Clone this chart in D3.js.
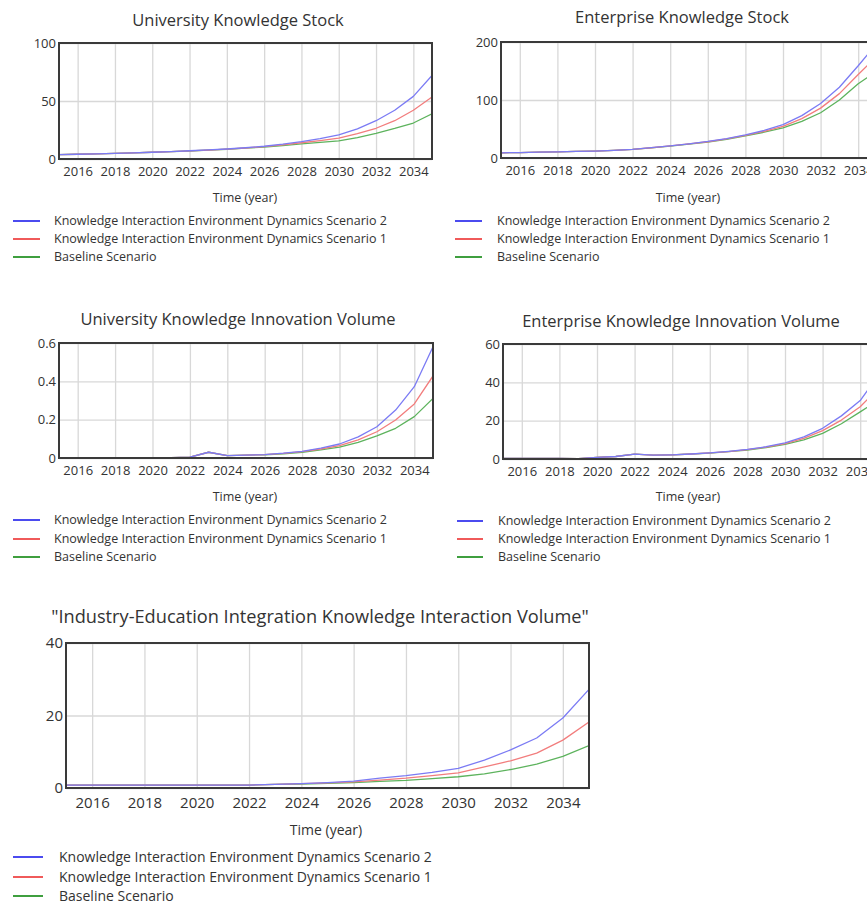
<!DOCTYPE html>
<html>
<head>
<meta charset="utf-8">
<script src="https://cdn.jsdelivr.net/npm/d3@7"></script>
<style>
  html, body { margin: 0; padding: 0; background: #fff; }
  svg { display: block; overflow: hidden; font-family: "Open Sans", "Noto Sans", sans-serif; }
</style>
</head>
<body>
<svg id="chart" width="867" height="904"></svg>
<script>
// Simulation years, 2015–2035
const years = d3.range(2015, 2036);
const xTickYears = [2016, 2018, 2020, 2022, 2024, 2026, 2028, 2030, 2032, 2034];

const seriesNames = [
  "Knowledge Interaction Environment Dynamics Scenario 2",
  "Knowledge Interaction Environment Dynamics Scenario 1",
  "Baseline Scenario"
];

// University Knowledge Stock
const uniStockS2 = [3.7, 4.1, 4.5, 4.9, 5.3, 5.8, 6.4, 7.1, 7.8, 8.6, 9.7, 11.0, 12.8, 15.0, 17.6, 20.8, 26.0, 33.0, 42.0, 54.0, 72.0];
const uniStockS1 = [3.7, 4.1, 4.5, 4.9, 5.3, 5.8, 6.4, 7.0, 7.7, 8.5, 9.5, 10.7, 12.2, 14.0, 15.9, 18.0, 21.8, 26.5, 33.0, 42.0, 53.5];
const uniStockBase = [3.7, 4.1, 4.5, 4.9, 5.3, 5.8, 6.3, 6.9, 7.6, 8.4, 9.3, 10.3, 11.6, 13.0, 14.3, 15.6, 18.5, 22.0, 26.3, 31.0, 39.0];
const uniStockTicks = [0, 50, 100];

// Enterprise Knowledge Stock
const entStockS2 = [9.0, 9.3, 10.0, 10.7, 11.3, 12.0, 13.2, 15.0, 17.8, 21.0, 24.5, 28.5, 33.5, 40.0, 47.5, 57.5, 73.0, 94.0, 122.0, 159.0, 198.0];
const entStockS1 = [9.0, 9.3, 10.0, 10.7, 11.3, 12.0, 13.2, 15.0, 17.7, 20.8, 24.2, 28.0, 32.8, 39.0, 46.0, 54.5, 68.0, 86.0, 111.0, 144.0, 176.0];
const entStockBase = [9.0, 9.3, 10.0, 10.7, 11.3, 12.0, 13.2, 15.0, 17.6, 20.6, 23.9, 27.5, 32.0, 38.0, 44.5, 52.0, 63.0, 78.0, 100.0, 128.0, 150.0];
const entStockTicks = [0, 100, 200];

// University Knowledge Innovation Volume
const uniInnovS2 = [0, 0, 0, 0, 0, 0.001, 0.002, 0.004, 0.03, 0.012, 0.015, 0.018, 0.025, 0.035, 0.052, 0.073, 0.11, 0.163, 0.25, 0.372, 0.58];
const uniInnovS1 = [0, 0, 0, 0, 0, 0.001, 0.002, 0.004, 0.03, 0.012, 0.015, 0.018, 0.024, 0.033, 0.047, 0.065, 0.095, 0.137, 0.198, 0.282, 0.428];
const uniInnovBase = [0, 0, 0, 0, 0, 0.001, 0.002, 0.004, 0.03, 0.012, 0.015, 0.017, 0.022, 0.03, 0.042, 0.057, 0.082, 0.115, 0.155, 0.216, 0.311];
const uniInnovTicks = [0, 0.2, 0.4, 0.6];

// Enterprise Knowledge Innovation Volume
const entInnovS2 = [0.3, 0.3, 0.3, 0.3, 0.2, 0.8, 1.3, 2.5, 2.0, 2.2, 2.6, 3.2, 4.0, 5.0, 6.4, 8.4, 11.5, 16.0, 22.5, 30.5, 44.0];
const entInnovS1 = [0.3, 0.3, 0.3, 0.3, 0.2, 0.8, 1.3, 2.5, 2.0, 2.2, 2.6, 3.2, 3.9, 4.9, 6.2, 8.0, 10.8, 14.8, 20.3, 27.3, 37.0];
const entInnovBase = [0.3, 0.3, 0.3, 0.3, 0.2, 0.8, 1.3, 2.5, 2.0, 2.2, 2.6, 3.1, 3.8, 4.7, 5.9, 7.6, 10.0, 13.4, 18.4, 24.6, 31.0];
const entInnovTicks = [0, 20, 40, 60];

// Industry-Education Integration Knowledge Interaction Volume
const interS2 = [0.8, 0.8, 0.8, 0.8, 0.8, 0.8, 0.8, 0.8, 1.0, 1.2, 1.5, 1.9, 2.7, 3.4, 4.3, 5.4, 7.7, 10.5, 13.8, 19.3, 27.2];
const interS1 = [0.8, 0.8, 0.8, 0.8, 0.8, 0.8, 0.8, 0.8, 1.0, 1.2, 1.4, 1.7, 2.2, 2.7, 3.4, 4.2, 5.8, 7.5, 9.6, 13.2, 18.2];
const interBase = [0.8, 0.8, 0.8, 0.8, 0.8, 0.8, 0.8, 0.8, 1.0, 1.1, 1.3, 1.5, 1.8, 2.1, 2.6, 3.1, 3.9, 5.1, 6.6, 8.7, 11.7];
const interTicks = [0, 20, 40];

// Line colours (plot) and legend swatch colours
const lineColors = ["#7b7bf4", "#f27d7d", "#5db35d"];
const legendColors = ["#4b4bef", "#f05a5a", "#3f9f3f"];

const panels = [
  { title: "University Knowledge Stock", series: [uniStockS2, uniStockS1, uniStockBase], ticks: uniStockTicks,
    box: { left: 59, right: 432, top: 43, bottom: 159 }, titleX: 238, titleY: 26, axisX: 245, axisY: 202,
    legend: { x0: 13, x1: 40, tx: 54, ys: [221, 239, 257] }, fs: { title: 16.5, tick: 13, axis: 12.5, legend: 12.5 } },
  { title: "Enterprise Knowledge Stock", series: [entStockS2, entStockS1, entStockBase], ticks: entStockTicks,
    box: { left: 501, right: 877, top: 42, bottom: 158 }, titleX: 682, titleY: 23, axisX: 688, axisY: 202,
    legend: { x0: 455, x1: 482, tx: 497, ys: [221, 239, 257] }, fs: { title: 16.5, tick: 13, axis: 12.5, legend: 12.5 } },
  { title: "University Knowledge Innovation Volume", series: [uniInnovS2, uniInnovS1, uniInnovBase], ticks: uniInnovTicks,
    box: { left: 59, right: 433, top: 343, bottom: 458 }, titleX: 238, titleY: 325, axisX: 245, axisY: 501,
    legend: { x0: 13, x1: 40, tx: 54, ys: [520, 539, 557] }, fs: { title: 16.5, tick: 13, axis: 12.5, legend: 12.5 } },
  { title: "Enterprise Knowledge Innovation Volume", series: [entInnovS2, entInnovS1, entInnovBase], ticks: entInnovTicks,
    box: { left: 503, right: 879, top: 344, bottom: 459 }, titleX: 681, titleY: 327, axisX: 688, axisY: 501,
    legend: { x0: 457, x1: 483, tx: 498, ys: [521, 539, 557] }, fs: { title: 16.5, tick: 13, axis: 12.5, legend: 12.5 } },
  { title: "\"Industry-Education Integration Knowledge Interaction Volume\"", series: [interS2, interS1, interBase], ticks: interTicks,
    box: { left: 66, right: 589, top: 643, bottom: 788 }, titleX: 320, titleY: 623, axisX: 326, axisY: 835,
    legend: { x0: 13, x1: 43, tx: 59, ys: [857, 877, 896] }, fs: { title: 18.2, tick: 15, axis: 14, legend: 14 } }
];

const svg = d3.select("#chart");
const textColor = "#333";

panels.forEach(p => {
  const g = svg.append("g");
  const b = p.box;
  const x = d3.scaleLinear().domain([2015, 2035]).range([b.left, b.right]);
  const y = d3.scaleLinear().domain([0, d3.max(p.ticks)]).range([b.bottom, b.top]);

  // title
  g.append("text")
    .attr("x", p.titleX).attr("y", p.titleY)
    .attr("text-anchor", "middle")
    .attr("font-size", p.fs.title)
    .attr("fill", textColor)
    .text(p.title);

  // vertical grid lines
  g.append("g")
    .attr("transform", `translate(0,${b.bottom})`)
    .call(d3.axisBottom(x).tickValues(xTickYears).tickSize(-(b.bottom - b.top)).tickFormat(""))
    .call(s => s.select(".domain").remove())
    .call(s => s.selectAll("line").attr("stroke", "#d8d8d8").attr("stroke-width", 1.3));

  // horizontal grid lines
  g.append("g")
    .attr("transform", `translate(${b.left},0)`)
    .call(d3.axisLeft(y).tickValues(p.ticks).tickSize(-(b.right - b.left)).tickFormat(""))
    .call(s => s.select(".domain").remove())
    .call(s => s.selectAll("line").attr("stroke", "#d8d8d8").attr("stroke-width", 1.3));

  // x tick labels
  g.append("g")
    .attr("transform", `translate(0,${b.bottom})`)
    .call(d3.axisBottom(x).tickValues(xTickYears).tickSize(0).tickPadding(p.fs.tick * 0.6).tickFormat(d3.format("d")))
    .call(s => s.select(".domain").remove())
    .call(s => s.selectAll("text").attr("font-size", p.fs.tick).attr("fill", textColor)
      .attr("font-family", "\"Open Sans\", sans-serif"));

  // y tick labels
  g.append("g")
    .attr("transform", `translate(${b.left},0)`)
    .call(d3.axisLeft(y).tickValues(p.ticks).tickSize(0).tickPadding(3).tickFormat(d3.format("~g")))
    .call(s => s.select(".domain").remove())
    .call(s => s.selectAll("text").attr("font-size", p.fs.tick).attr("fill", textColor)
      .attr("font-family", "\"Open Sans\", sans-serif"));

  // series lines, baseline first so scenario 2 sits on top
  const line = d3.line().x((d, i) => x(years[i])).y(d => y(d));
  const clipId = "clip-" + b.left + "-" + b.top;
  g.append("clipPath").attr("id", clipId)
    .append("rect").attr("x", b.left).attr("y", b.top)
    .attr("width", b.right - b.left).attr("height", b.bottom - b.top);
  const lines = g.append("g").attr("clip-path", `url(#${clipId})`);
  [2, 1, 0].forEach(k => {
    lines.append("path")
      .datum(p.series[k])
      .attr("d", line)
      .attr("fill", "none")
      .attr("stroke", lineColors[k])
      .attr("stroke-width", 1.3)
      .attr("stroke-linejoin", "round");
  });

  // plot frame
  g.append("rect")
    .attr("x", b.left).attr("y", b.top)
    .attr("width", b.right - b.left).attr("height", b.bottom - b.top)
    .attr("fill", "none").attr("stroke", "#3a3a3a").attr("stroke-width", 2);

  // axis title
  g.append("text")
    .attr("x", p.axisX).attr("y", p.axisY)
    .attr("text-anchor", "middle")
    .attr("font-size", p.fs.axis)
    .attr("fill", textColor)
    .text("Time (year)");

  // legend
  seriesNames.forEach((name, k) => {
    const ly = p.legend.ys[k];
    g.append("line")
      .attr("x1", p.legend.x0).attr("x2", p.legend.x1)
      .attr("y1", ly).attr("y2", ly)
      .attr("stroke", legendColors[k]).attr("stroke-width", 2);
    g.append("text")
      .attr("x", p.legend.tx).attr("y", ly)
      .attr("dy", "0.35em")
      .attr("font-size", p.fs.legend)
      .attr("fill", textColor)
      .text(name);
  });
});
</script>
</body>
</html>
